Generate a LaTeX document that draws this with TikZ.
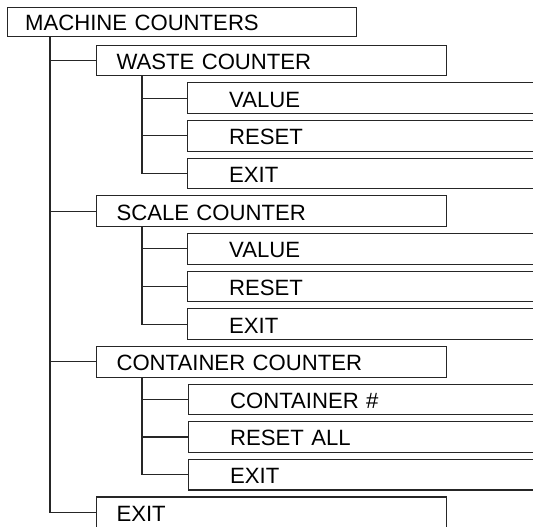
\documentclass[tikz,border=0pt]{standalone}
\usepackage{fontspec}
\setmainfont{Liberation Sans}
\begin{document}
\begin{tikzpicture}[x=0.75pt,y=-0.75pt,
  base/.style={draw=black!85, line width=0.8pt, anchor=north west, align=left,
    inner ysep=0pt, text height=13.4pt, text depth=0pt,
    font=\fontsize{16.6}{18}\selectfont},
  topbox/.style={base, inner xsep=13.2pt, text width=235.35pt, minimum height=21.6pt},
  lonebox/.style={base, inner xsep=15pt, text width=232.5pt, minimum height=23pt},
  ltwobox/.style={base, inner xsep=31.2pt, text width=217.35pt, minimum height=23pt},
  conn/.style={draw=black!85, line width=0.8pt}]
\clip (0,0) rectangle (533,526);
\fill[white] (0,0) rectangle (533,526);
\def\r#1{7+37.65*#1}
\node[topbox] (top) at (7,{\r0}) {MACHINE COUNTERS};
\node[lonebox] (waste) at (96,{\r1}) {WASTE COUNTER};
\node[ltwobox] (wv) at (187,{\r2}) {VALUE};
\node[ltwobox] (wr) at (187,{\r3}) {RESET};
\node[ltwobox] (we) at (187,{\r4}) {EXIT};
\node[lonebox] (scale) at (96,{\r5}) {SCALE COUNTER};
\node[ltwobox] (sv) at (187,{\r6}) {VALUE};
\node[ltwobox] (sr) at (187,{\r7}) {RESET};
\node[ltwobox] (se) at (187,{\r8}) {EXIT};
\node[lonebox] (cont) at (96,{\r9}) {CONTAINER COUNTER};
\node[ltwobox] (cn) at (188,{\r10}) {CONTAINER \#};
\node[ltwobox] (cr) at (188,{\r11}) {RESET ALL};
\node[ltwobox] (ce) at (188,{\r12}) {EXIT};
\node[lonebox] (exit) at (96,{\r13}) {EXIT};
\foreach \c in {waste,scale,cont,exit}
  \draw[conn] ([xshift=32.25pt]top.south west) |- (\c.west);
\foreach \p/\a/\b/\cc in {waste/wv/wr/we,scale/sv/sr/se,cont/cn/cr/ce}
  \foreach \c in {\a,\b,\cc}
    \draw[conn] ([xshift=34.5pt]\p.south west) |- (\c.west);
\end{tikzpicture}
\end{document}
